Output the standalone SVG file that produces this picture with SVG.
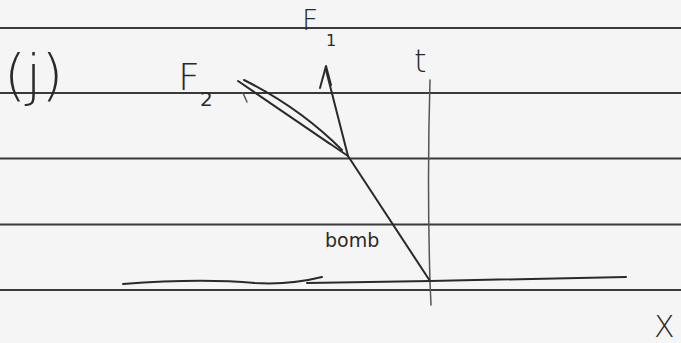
<svg xmlns="http://www.w3.org/2000/svg" width="681" height="343" viewBox="0 0 681 343">
<style>
.rule{stroke:#3a3a3a;stroke-width:2;fill:none}
.ink{stroke:#2a2a2a;stroke-width:2;fill:none;stroke-linecap:round;stroke-linejoin:round}
.thin{stroke:#555;stroke-width:1.5;fill:none;stroke-linecap:round}
.lbl{font-family:"DejaVu Sans","Liberation Sans",sans-serif;fill:#2a2a2a}
</style>
<rect width="681" height="343" fill="#f5f5f5"/>
<g id="paper">
<line class="rule" x1="0" y1="28" x2="681" y2="28"/>
<line class="rule" x1="0" y1="93" x2="681" y2="93"/>
<line class="rule" x1="0" y1="158.5" x2="681" y2="158.5"/>
<line class="rule" x1="0" y1="224.5" x2="681" y2="224.5"/>
<line class="rule" x1="0" y1="290" x2="681" y2="290"/>
</g>
<g id="ground">
<path class="ink" stroke-width="2.5" d="M123,284 Q200,278 255,283 Q290,285 322,277"/>
<path class="ink" stroke-width="2.5" d="M307,283 L430,281 L626,277"/>
</g>
<g id="t-axis">
<path class="thin" d="M430,80 Q427,180 430,282 L431,305"/>
</g>
<g id="connectors">
<line class="ink" stroke-width="1.6" x1="348" y1="156" x2="430" y2="281"/>
<path class="ink" d="M348,156 L326,70"/>
<path class="ink" d="M320,88 L326,66 L331,85"/>
<path class="ink" stroke-width="2.8" d="M348,156 L238,81 L330,144"/>
<path class="ink" d="M244,80 Q300,108 342,150"/>
<line class="thin" x1="243" y1="93" x2="247" y2="102"/>
</g>
<g id="labels">
<text class="lbl" x="4" y="94" font-size="56" font-weight="300">(j)</text>
<text class="lbl" x="178" y="90" font-size="38" font-weight="300">F</text>
<text class="lbl" x="200" y="106" font-size="20">2</text>
<text class="lbl" x="302" y="30" font-size="28" font-weight="300">F</text>
<text class="lbl" x="326" y="46" font-size="16">1</text>
<text class="lbl" x="414" y="72" font-size="32" font-weight="300">t</text>
<text class="lbl" x="325" y="247" font-size="19">bomb</text>
<text class="lbl" x="654" y="337" font-size="30" font-weight="300">X</text>
</g>
</svg>
